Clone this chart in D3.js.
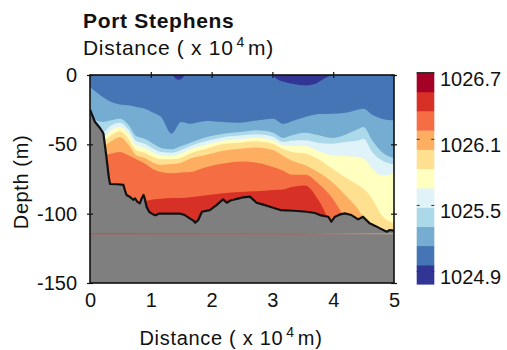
<!DOCTYPE html>
<html>
<head>
<meta charset="utf-8">
<script src="https://cdn.jsdelivr.net/npm/d3@7"></script>
<style>
  body { margin: 0; background: #fff; }
  text { font-family: "Liberation Sans", Arial, Helvetica, sans-serif; fill: #111; }
</style>
</head>
<body>
<div id="chart"></div>
<script>
// stations along the section (x 10^4 m)
var distance = [0, 0.21, 0.35, 0.49, 0.63, 0.76, 0.90, 1.04, 1.17, 1.34, 1.50, 1.65, 1.92, 2.19,
                2.47, 2.74, 3.01, 3.18, 3.32, 3.54, 3.76, 3.98, 4.20, 4.42, 4.50, 4.64, 4.80, 5.00];

// depth (m) of each density contour, shallow to deep
var iso1 = [-8.7, -15.9, -19.5, -21.2, -21.9, -23.1, -24.3, -27.2, -30.3, -42.3, -33.9, -35.1, -33.2, -33.9,
            -34.4, -32.9, -31.5, -35.3, -33.4, -30.3, -28.1, -27.9, -27.2, -24.8, -24.3, -28.6, -31.5, -32.7];
var iso2 = [-30.3, -33.9, -32.7, -31.5, -35.8, -44.0, -45.9, -49.5, -52.6, -53.6, -51.2, -48.8, -44.7, -42.3,
            -41.1, -39.9, -41.6, -45.4, -43.5, -41.6, -43.5, -45.4, -43.0, -38.7, -37.5, -47.1, -55.5, -59.9];
var iso3 = [-37.5, -41.1, -36.3, -34.4, -39.2, -47.6, -49.5, -53.1, -55.5, -56.0, -54.1, -51.2, -47.6, -44.9,
            -43.7, -42.8, -44.5, -48.3, -47.4, -47.1, -49.0, -49.5, -48.3, -47.1, -45.9, -55.5, -61.5, -64.7];
var iso4 = [-41.1, -44.7, -39.9, -37.5, -42.3, -50.7, -52.6, -56.0, -57.9, -58.4, -56.7, -53.6, -50.2, -47.4,
            -46.2, -45.2, -47.1, -50.7, -51.2, -51.2, -55.0, -57.9, -58.4, -59.4, -60.3, -67.5, -72.4, -71.2];
var iso5 = [-44.0, -47.6, -43.5, -40.6, -45.9, -54.3, -56.0, -59.1, -60.8, -60.8, -59.6, -56.5, -53.1, -49.8,
            -48.8, -47.8, -49.8, -53.6, -55.5, -56.7, -60.8, -67.5, -74.0, -79.6, -82.0, -89.2, -101.2, -107.2];
var iso6 = [-47.1, -51.2, -47.8, -44.7, -50.2, -57.9, -59.9, -63.2, -64.7, -64.2, -63.2, -60.3, -57.5, -54.6,
            -53.1, -52.2, -54.1, -58.4, -61.8, -65.1, -70.4, -77.2, -86.8, -97.6, -103.6, -110.8, -115.6, -116.8];
var iso7 = [-55.5, -57.9, -56.7, -55.5, -57.9, -60.8, -63.9, -68.0, -70.0, -70.9, -70.4, -70.0, -66.3, -63.9,
            -62.3, -63.2, -66.3, -69.0, -71.9, -71.9, -78.4, -88.5, -103.6, -115.6, -115.6, -115.6, -115.6, -116.8];
var iso8 = [-101.2, -101.2, -101.2, -101.2, -101.2, -95.2, -91.1, -89.7, -89.2, -88.7, -88.7, -88.2, -86.8, -85.3,
            -84.4, -83.9, -82.9, -82.5, -80.8, -79.6, -90.4, -108.4, -115.6, -115.6, -115.6, -115.6, -115.6, -116.8];

// lightest water patches at the surface
var patchADist = [1.36, 1.41, 1.46, 1.51, 1.56];
var patchADepth = [0, -2.5, -3.5, -2.5, 0];
var patchBDist = [3.0, 3.08, 3.2, 3.35, 3.55, 3.7, 3.8, 3.9, 3.98];
var patchBDepth = [0, -3, -5, -6.5, -7.5, -6.5, -4, -1.5, 0];

// sea floor
var bottomDist = [0, 0.08, 0.16, 0.22, 0.27, 0.31, 0.33, 0.45, 0.55, 0.58, 0.60, 0.66, 0.71, 0.74, 0.78, 0.82,
                  0.85, 0.88, 0.90, 0.93, 0.97, 1.01, 1.06, 1.09, 1.13, 1.48, 1.56, 1.64, 1.70, 1.73, 1.78, 1.84,
                  1.97, 2.08, 2.14, 2.19, 2.25, 2.31, 2.36, 2.45, 2.52, 2.63, 2.74, 2.85, 2.96, 3.13, 3.35, 3.56,
                  3.70, 3.78, 3.92, 3.97, 4.03, 4.12, 4.19, 4.30, 4.41, 4.49, 4.60, 4.70, 4.77, 4.88, 4.93, 5.0];
var bottomDepth = [-25, -33.7, -38, -42, -59, -74, -78.6, -78.8, -79.3, -84, -86.5, -88, -90, -89, -91.5, -92.5,
                   -89, -86.5, -89, -95, -98.5, -99.8, -101, -101, -100, -100, -101, -103.4, -105, -106.5, -104.6, -98.6,
                   -97.4, -93.8, -91.5, -89.7, -92.1, -90.5, -90, -89, -88.2, -87.7, -92.1, -93.5, -95, -97.4, -97.9, -98.6,
                   -99.5, -101, -102.2, -105.8, -102.2, -100.5, -99.8, -101, -104.1, -102.2, -107, -109, -110.6, -113, -111.8, -112.3];
var refLineDepth = -114.5;

// colour bar
var densityMin = 1024.78;
var densityMax = 1026.7;
var nBands = 11;
var cbarTicks = [1024.9, 1025.5, 1026.1, 1026.7];
var xTicks = [0, 1, 2, 3, 4, 5];
var yTicks = [0, -50, -100, -150];

var bandColors = d3.schemeRdYlBu[11].slice().reverse();

var margin = {top: 75, left: 90};
var width = 304, height = 208;

var svg = d3.select("#chart").append("svg").attr("width", 507).attr("height", 350);
var chart = svg.append("g").attr("transform", `translate(${margin.left},${margin.top})`);

var xScale = d3.scaleLinear().domain([0, 5]).range([0, width]);
var yScale = d3.scaleLinear().domain([-150, 0]).range([height, 0]);

chart.append("clipPath").attr("id", "plotClip")
    .append("rect").attr("width", width).attr("height", height);
var plot = chart.append("g").attr("clip-path", "url(#plotClip)");

// water column above first contour
plot.append("rect").attr("width", width).attr("height", height).attr("fill", bandColors[1]);

var isopycnals = [iso1, iso2, iso3, iso4, iso5, iso6, iso7, iso8];
var fillBelow = d3.area()
    .x(function (d) { return xScale(d[0]); })
    .y0(height)
    .y1(function (d) { return yScale(d[1]); })
    .curve(d3.curveMonotoneX);

isopycnals.forEach(function (iso, k) {
    plot.append("path")
        .datum(d3.zip(distance, iso))
        .attr("d", fillBelow)
        .attr("fill", bandColors[k + 2]);
});

var patchArea = d3.area()
    .x(function (d) { return xScale(d[0]); })
    .y0(yScale(0))
    .y1(function (d) { return yScale(d[1]); })
    .curve(d3.curveMonotoneX);
[[patchADist, patchADepth], [patchBDist, patchBDepth]].forEach(function (p) {
    plot.append("path").datum(d3.zip(p[0], p[1])).attr("d", patchArea).attr("fill", bandColors[0]);
});

var bottom = d3.zip(bottomDist, bottomDepth);
plot.append("path")
    .datum(bottom)
    .attr("d", d3.area().x(function (d) { return xScale(d[0]); }).y0(height).y1(function (d) { return yScale(d[1]); }))
    .attr("fill", "#7f7f7f");

var grad = svg.append("defs").append("linearGradient").attr("id", "refGrad");
grad.append("stop").attr("offset", "0%").attr("stop-color", "#c0503e");
grad.append("stop").attr("offset", "70%").attr("stop-color", "#c06048");
grad.append("stop").attr("offset", "100%").attr("stop-color", "#c8a580");
plot.append("rect")
    .attr("x", 0).attr("width", width)
    .attr("y", yScale(refLineDepth) - 0.5).attr("height", 1)
    .attr("fill", "url(#refGrad)");

plot.append("path")
    .datum(bottom)
    .attr("d", d3.line().x(function (d) { return xScale(d[0]); }).y(function (d) { return yScale(d[1]); }))
    .attr("fill", "none")
    .attr("stroke", "#111")
    .attr("stroke-width", 2.2)
    .attr("stroke-linejoin", "round");

// frame
chart.append("rect").attr("width", width).attr("height", height)
    .attr("fill", "none").attr("stroke", "#111").attr("stroke-width", 1.6);

// axes
var yAxis = chart.append("g").attr("transform", "translate(3,0)")
    .call(d3.axisLeft(yScale).tickValues(yTicks).tickSize(6).tickPadding(10)
        .tickFormat(function (d) { return String(d); }));
var yAxisR = chart.append("g").attr("transform", `translate(${width - 3},0)`)
    .call(d3.axisRight(yScale).tickValues(yTicks).tickSize(6).tickFormat(""));
var xAxisTop = chart.append("g").attr("transform", "translate(0,3)")
    .call(d3.axisTop(xScale).tickValues([1, 2, 3, 4]).tickSize(6).tickFormat(""));
var xAxis = chart.append("g").attr("transform", `translate(0,${height})`)
    .call(d3.axisBottom(xScale).tickValues(xTicks).tickSize(0).tickPadding(10).tickFormat(d3.format("d")));

[yAxis, yAxisR, xAxisTop, xAxis].forEach(function (a) {
    a.select(".domain").remove();
    a.selectAll("line").attr("stroke", "#111").attr("stroke-width", 1.2);
    a.selectAll("text").attr("font-size", "20px").attr("fill", "#111")
        .style("font-family", "'Liberation Sans', Arial, sans-serif");
});

// colour bar
var cbX = 326.7, cbW = 17.6;
var cScale = d3.scaleLinear().domain([densityMin, densityMax]).range([284.3 - margin.top, 72.7 - margin.top]);
var step = (densityMax - densityMin) / nBands;
var bandEdges = d3.range(nBands).map(function (i) { return densityMin + i * step; });
chart.append("g").selectAll("rect")
    .data(bandEdges)
    .enter()
    .append("rect")
    .attr("x", cbX)
    .attr("width", cbW)
    .attr("y", function (d) { return cScale(d + step); })
    .attr("height", function (d) { return cScale(d) - cScale(d + step) + 0.3; })
    .attr("fill", function (d, i) { return bandColors[i]; });
chart.append("line").attr("x1", cbX).attr("x2", cbX + cbW)
    .attr("y1", cScale(densityMax)).attr("y2", cScale(densityMax))
    .attr("stroke", "#111").attr("stroke-width", 1);

var cbL = chart.append("g").attr("transform", `translate(${cbX},0)`)
    .call(d3.axisLeft(cScale).tickValues(cbarTicks).tickSizeInner(-3).tickSizeOuter(0).tickFormat(""));
var cbR = chart.append("g").attr("transform", `translate(${cbX + cbW},0)`)
    .call(d3.axisRight(cScale).tickValues(cbarTicks).tickSizeInner(-3).tickSizeOuter(0).tickPadding(5.7)
        .tickFormat(d3.format(".1f")));
[cbL, cbR].forEach(function (a) {
    a.select(".domain").remove();
    a.selectAll("line").attr("stroke", "#333").attr("stroke-width", 1);
    a.selectAll("text").attr("font-size", "20px").attr("fill", "#111").attr("dy", "0.62em")
        .style("font-family", "'Liberation Sans', Arial, sans-serif");
});

// titles
svg.append("text")
    .attr("x", 83).attr("y", 28)
    .attr("font-size", "21px").attr("font-weight", "bold")
    .style("letter-spacing", "0.7px")
    .text("Port Stephens");

function distanceLabel(sel) {
    sel.append("tspan").text("Distance ( x 10");
    sel.append("tspan").attr("dx", 3).attr("dy", -8).attr("font-size", "14px").text("4");
    sel.append("tspan").attr("dx", 3).attr("dy", 8).text("m)");
}
svg.append("text")
    .attr("x", 83).attr("y", 55)
    .attr("font-size", "21px")
    .style("letter-spacing", "0.7px")
    .call(distanceLabel);

svg.append("text")
    .attr("x", 231).attr("y", 345)
    .attr("text-anchor", "middle")
    .attr("font-size", "20px")
    .style("letter-spacing", "0.7px")
    .call(distanceLabel);

svg.append("text")
    .attr("transform", "translate(28,182)rotate(-90)")
    .attr("text-anchor", "middle")
    .attr("font-size", "20px")
    .style("letter-spacing", "0.6px")
    .text("Depth (m)");
</script>
</body>
</html>
